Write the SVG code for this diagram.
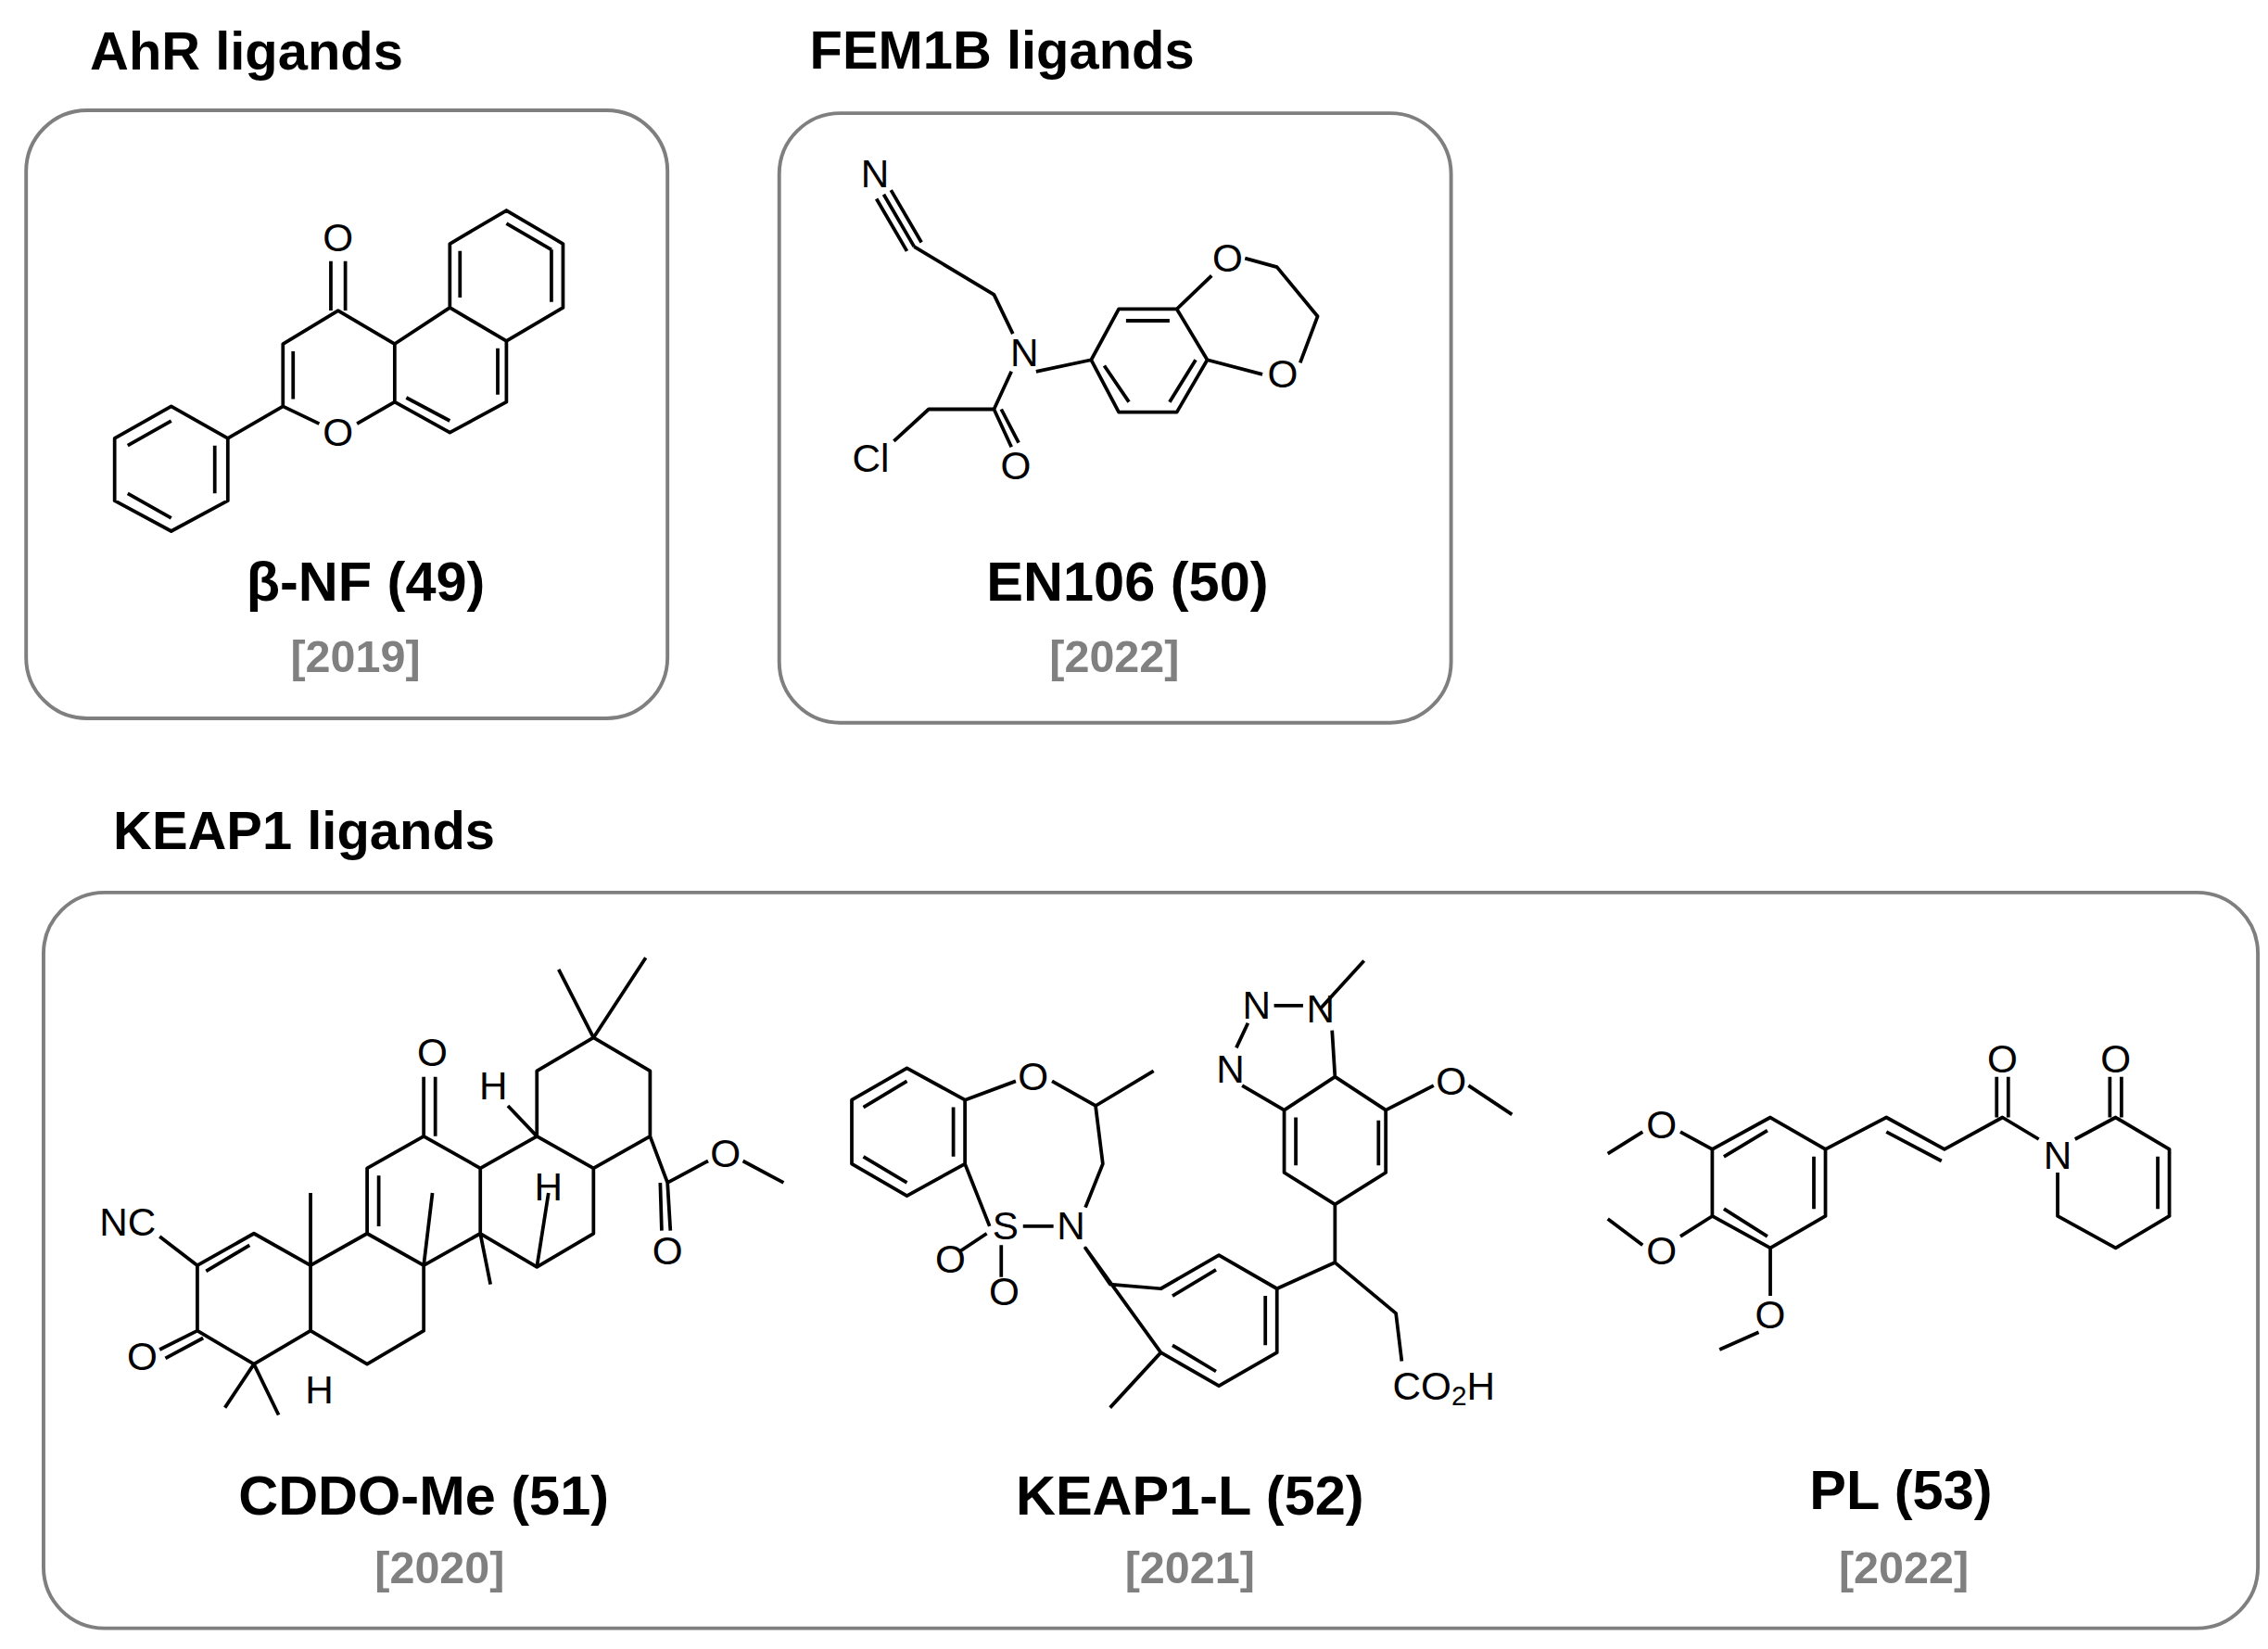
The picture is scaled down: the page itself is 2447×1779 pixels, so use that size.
<svg xmlns="http://www.w3.org/2000/svg" width="2447" height="1779" viewBox="0 0 2447 1779">
<style>
.box{fill:#fff;stroke:#7f7f7f;stroke-width:2.5}
.t{font-family:"Liberation Sans",Arial,sans-serif;font-weight:bold;font-size:37px;fill:#000}
.y{font-family:"Liberation Sans",Arial,sans-serif;font-weight:bold;font-size:31px;fill:#808080;text-anchor:middle}
.n{font-family:"Liberation Sans",Arial,sans-serif;font-weight:bold;font-size:38px;fill:#000;text-anchor:middle}
.a{font-family:"Liberation Sans",Arial,sans-serif;font-size:27px;fill:#000;text-anchor:middle;dominant-baseline:central}
.b{fill:none;stroke:#000;stroke-width:2.4;stroke-linejoin:round}
</style>
<rect width="2447" height="1779" fill="#fff"/>
<g transform="scale(1.5656)">
<g id="ahr">
<text class="t" x="62" y="48">AhR ligands</text>
<rect class="box" x="18" y="76" width="442" height="419" rx="42"/>
<path class="b" d="M118,280 L157,302 L157,345 L118,366 L79,345 L79,302 Z M88,307 L118,290 M148,307 L148,340 M88,340 L118,357 M157,302 L195,280 L195,237 L233,214 L272,237 L272,277 L246,292 M220,292 L195,280 M202,275 L202,242 M228,214 L228,180 M238,214 L238,180 M272,237 L310,212 L349,235 L349,277 L310,298 L272,277 M310,212 L310,168 L349,145 L388,168 L388,212 L349,235 M317,205 L317,173 M349,154 L380,172 M343,240 L343,272 M310,290 L280,274 M380,172 L380,208"/>
<text class="a" x="233" y="164">O</text>
<text class="a" x="233" y="298">O</text>
<text class="n" x="252" y="414">β-NF (49)</text>
<text class="y" x="245" y="463">[2019]</text>
</g>
<g id="fem1b">
<text class="t" x="558" y="47">FEM1B ligands</text>
<rect class="box" x="537" y="78" width="463" height="420" rx="42"/>
<path class="b" d="M609,134 L630,170 M604,137 L625,173 M614,131 L635,167 M630,170 L685,203 L698,230 M714,256 L752,248 M697,256 L685,282 L697,308 M690,282 L702,305 M685,282 L640,282 L616,304 M752,248 L771,213 L811,213 L832,248 L811,284 L771,284 Z M776,221 L806,221 M824,248 L806,277 M778,277 L761,252 M811,213 L835,190 M832,248 L870,258 M896,250 L908,218 L880,184 L858,178"/>
<text class="a" x="603" y="120">N</text>
<text class="a" x="706" y="243">N</text>
<text class="a" x="700" y="321">O</text>
<text class="a" x="600" y="316">Cl</text>
<text class="a" x="846" y="178">O</text>
<text class="a" x="884" y="258">O</text>
<text class="n" x="777" y="414">EN106 (50)</text>
<text class="y" x="768" y="463">[2022]</text>
</g>
<g id="keap1">
<text class="t" x="78" y="585">KEAP1 ligands</text>
<rect class="box" x="30" y="615" width="1526" height="507" rx="42"/>
</g>
<g id="cddo">
<path class="b" d="M175,850 L214,872 L214,917 L175,940 L136,917 L136,872 Z M172,858 L142,876 M214,872 L253,850 L292,872 L292,917 L253,940 L214,917 M253,850 L253,805 L292,783 L331,805 L331,850 L292,872 M261,845 L261,810 M331,805 L370,783 L409,805 L409,850 L370,873 L331,850 M370,783 L370,738 L409,715 L448,738 L448,783 L409,805 M292,783 L292,742 M300,783 L300,742 M136,872 L110,852 M136,917 L110,930 M140,922 L114,936 M175,940 L155,970 M175,940 L192,975 M214,872 L214,822 M292,872 L298,822 M331,850 L338,885 M370,783 L350,762 M370,873 L378,822 M409,715 L385,668 M409,715 L445,660 M448,783 L460,815 L462,848 M455,815 L456,848 M460,815 L488,800 M512,800 L540,815"/>
<text class="a" x="298" y="725">O</text>
<text class="a" x="88" y="842">NC</text>
<text class="a" x="98" y="935">O</text>
<text class="a" x="220" y="958">H</text>
<text class="a" x="340" y="748">H</text>
<text class="a" x="378" y="818">H</text>
<text class="a" x="460" y="862">O</text>
<text class="a" x="500" y="795">O</text>
<text class="n" x="292" y="1044">CDDO-Me (51)</text>
<text class="y" x="303" y="1091">[2020]</text>
</g>
<g id="keap1l">
<path class="b" d="M625,736 L665,758 L665,802 L625,824 L587,802 L587,758 Z M595,763 L625,745 M657,763 L657,797 M595,797 L625,815 M665,758 L700,745 M725,745 L755,762 L760,802 L748,832 M726,845 L705,845 M682,845 L665,802 M755,762 L795,738 M680,850 L662,862 M690,858 L690,880 M748,860 L765,885 L800,888 L840,865 L880,888 L880,932 L840,955 L800,932 Z M808,893 L838,875 M872,893 L872,927 M808,927 L838,945 M800,932 L765,970 M880,888 L920,870 L920,830 M920,870 L962,905 L966,938 M920,830 L885,808 L885,765 L920,742 L955,765 L955,808 Z M893,803 L893,770 M950,772 L950,803 M955,765 L988,748 M1012,748 L1042,768 M885,765 L856,748 M920,742 L918,710 M910,695 L940,662 M878,693 L898,693 M852,722 L860,705"/>
<text class="a" x="712" y="742">O</text>
<text class="a" x="738" y="845">N</text>
<text class="a" x="693" y="845">S</text>
<text class="a" x="655" y="868">O</text>
<text class="a" x="692" y="890">O</text>
<text class="a" x="848" y="737">N</text>
<text class="a" x="866" y="693">N</text>
<text class="a" x="910" y="695">N</text>
<text class="a" x="1000" y="745">O</text>
<text class="a" x="995" y="955">CO<tspan font-size="19" dy="6">2</tspan><tspan dy="-6">H</tspan></text>
<text class="n" x="820" y="1044">KEAP1-L (52)</text>
<text class="y" x="820" y="1091">[2021]</text>
</g>
<g id="pl">
<path class="b" d="M1180,792 L1220,770 L1258,792 L1258,838 L1220,860 L1180,838 Z M1188,797 L1218,779 M1250,797 L1250,833 M1188,833 L1218,852 M1180,792 L1158,780 M1132,780 L1108,795 M1180,838 L1158,852 M1132,858 L1108,840 M1220,860 L1220,893 M1212,918 L1185,930 M1258,792 L1300,770 L1340,792 L1380,770 L1405,785 M1300,780 L1338,800 M1376,770 L1376,742 M1384,770 L1384,742 M1430,785 L1458,770 L1495,792 L1495,838 L1458,860 L1418,838 L1418,808 M1454,770 L1454,742 M1462,770 L1462,742 M1487,797 L1487,833"/>
<text class="a" x="1145" y="775">O</text>
<text class="a" x="1145" y="862">O</text>
<text class="a" x="1220" y="906">O</text>
<text class="a" x="1380" y="730">O</text>
<text class="a" x="1458" y="730">O</text>
<text class="a" x="1418" y="796">N</text>
<text class="n" x="1310" y="1040">PL (53)</text>
<text class="y" x="1312" y="1091">[2022]</text>
</g>
</g>
</svg>
